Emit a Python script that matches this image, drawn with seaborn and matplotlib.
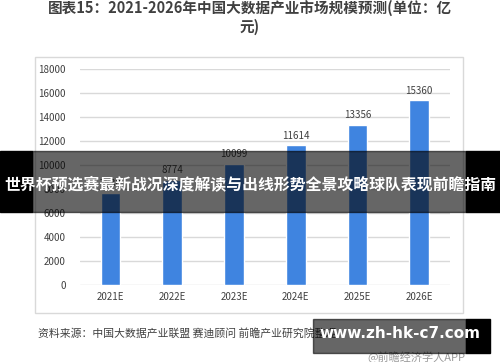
import matplotlib
matplotlib.use("Agg")
import matplotlib.pyplot as plt
import seaborn as sns
import pandas as pd
from matplotlib.patches import Rectangle

years = ["2021E", "2022E", "2023E", "2024E", "2025E", "2026E"]
market_size = [7630, 8774, 10099, 11614, 13356, 15360]
y_ticks = [0, 2000, 4000, 6000, 8000, 10000, 12000, 14000, 16000, 18000]

title = "图表15：2021-2026年中国大数据产业市场规模预测(单位：亿\n元)"
source = "资料来源：中国大数据产业联盟 赛迪顾问 前瞻产业研究院整理"
banner = "世界杯预选赛最新战况深度解读与出线形势全景攻略球队表现前瞻指南"
site = "www.zh-hk-c7.com"
app = "@前瞻经济学人APP"

sns.set_style("white")
plt.rcParams['font.family'] = ['Noto Sans CJK SC', 'DejaVu Sans']

df = pd.DataFrame({"year": years, "size": market_size})

fig = plt.figure(figsize=(5, 3.62), dpi=100)
fig.patch.set_facecolor("white")

# frame around the chart
fig.patches.append(Rectangle((35 / 500, 1 - 313 / 362), 428 / 500, 256 / 362,
                             transform=fig.transFigure, fill=False,
                             edgecolor="#d9d9d9", linewidth=1))

ax = fig.add_axes([0.1594, 0.2127, 0.7406, 0.5975])
sns.barplot(data=df, x="year", y="size", color="#3f84e0", width=0.32,
            saturation=1, ax=ax, zorder=3)
ax.set_ylim(0, 18000)
ax.set_xlim(-0.5, 5.5)
ax.set_yticks(y_ticks)
ax.set_yticklabels([str(t) for t in y_ticks])
ax.yaxis.grid(True, color="#d9d9d9", linewidth=1, zorder=0)
ax.set_axisbelow(True)
for s in ax.spines.values():
    s.set_visible(False)
ax.tick_params(axis="both", length=0, labelsize=7, colors="#404040")
ax.tick_params(axis="y", pad=10)
ax.tick_params(axis="x", pad=5)
ax.set_xlabel("")
ax.set_ylabel("")
ax.bar_label(ax.containers[0], labels=[str(v) for v in market_size],
             padding=3, fontsize=7, color="#404040")

fig.text(0.5, 1 - 17 / 362, title, ha="center", va="center", fontsize=10.5,
         fontweight="bold", color="#404040", linespacing=1.2)
fig.text(38 / 500, 1 - 333 / 362, source, ha="left", va="center",
         fontsize=7.8, color="#404040")
fig.text(465 / 500, 1 - 357 / 362, app, ha="right", va="center",
         fontsize=8, color="#9a9a9a")

# overlay banner
fig.patches.append(Rectangle((0, 1 - 212 / 362), 32 / 500, 61 / 362,
                             transform=fig.transFigure, color="black", zorder=10))
fig.patches.append(Rectangle((466 / 500, 1 - 212 / 362), 34 / 500, 61 / 362,
                             transform=fig.transFigure, color="black", zorder=10))
fig.patches.append(Rectangle((32 / 500, 1 - 212 / 362), 434 / 500, 61 / 362,
                             transform=fig.transFigure, color="black", alpha=0.6,
                             zorder=10))
fig.text(0.5, 1 - 184 / 362, banner, ha="center", va="center", fontsize=11.4,
         fontweight="bold", color="white", zorder=11)

# site box
fig.patches.append(Rectangle((313 / 500, 1 - 353 / 362), 153 / 500, 34 / 362,
                             transform=fig.transFigure, color="black", alpha=0.6,
                             zorder=10))
fig.patches.append(Rectangle((466 / 500, 1 - 353 / 362), 24 / 500, 34 / 362,
                             transform=fig.transFigure, color="black", zorder=10))
fig.text(400 / 500, 1 - 334 / 362, site, ha="center", va="center", fontsize=11,
         fontweight="bold", color="white", family="DejaVu Sans", zorder=11)

fig.savefig("out.png", dpi=100)
